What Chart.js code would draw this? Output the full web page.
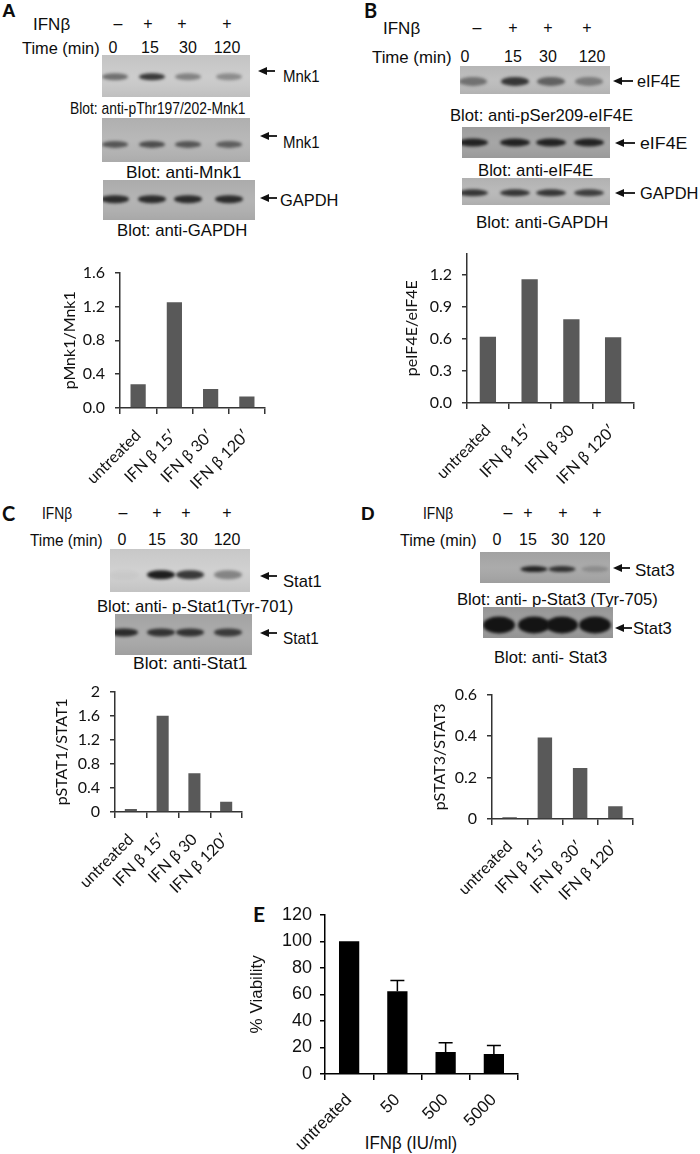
<!DOCTYPE html>
<html>
<head>
<meta charset="utf-8">
<title>IFNβ signalling</title>
<script src="https://cdn.jsdelivr.net/npm/chart.js"></script>
<style>
  body { margin: 0; background: #fff; }
  #page { position: relative; width: 700px; height: 1154px; overflow: hidden; background: #fff; color: #0d0d0d;
          font-family: Arial, "Liberation Sans", Helvetica, sans-serif; }
  .t { position: absolute; white-space: nowrap; font-size: 17px; line-height: 1;
       transform: translateY(-50%); transform-origin: left center; }
  .c { transform: translate(-50%, -50%); transform-origin: center center; }
  .lane { font-size: 16px; }
  .letter { font-weight: bold; font-size: 19px; }
  .cal { font-family: Lato, sans-serif; }
  canvas, svg { position: absolute; }
</style>
</head>
<body>
<div id="page">
  <!-- Panel A -->
  <div class="t letter" style="left:2px;top:10px">A</div>
  <div class="t" data-w="37" style="left:33px;top:24px">IFNβ</div>
  <div class="t" data-w="78" style="left:22px;top:48px">Time (min)</div>
  <div class="t" data-w="37" style="left:283px;top:76px">Mnk1</div>
  <div class="t" data-w="175" style="left:70px;top:108px">Blot: anti-pThr197/202-Mnk1</div>
  <div class="t" data-w="37" style="left:283px;top:142px">Mnk1</div>
  <div class="t" data-w="115" style="left:126px;top:172px">Blot: anti-Mnk1</div>
  <div class="t" data-w="58" style="left:280px;top:200px">GAPDH</div>
  <div class="t" data-w="130" style="left:117px;top:230px">Blot: anti-GAPDH</div>

  <!-- Panel B -->
  <div class="t letter cal" style="left:364px;top:10px;font-size:20px">B</div>
  <div class="t" data-w="37" style="left:383px;top:28px">IFNβ</div>
  <div class="t" data-w="80" style="left:372px;top:57px">Time (min)</div>
  <div class="t" data-w="43" style="left:637px;top:81px">eIF4E</div>
  <div class="t" data-w="183" style="left:450px;top:115px">Blot: anti-pSer209-eIF4E</div>
  <div class="t" data-w="47" style="left:640px;top:143px">eIF4E</div>
  <div class="t" data-w="115" style="left:478px;top:170px">Blot: anti-eIF4E</div>
  <div class="t" data-w="58" style="left:640px;top:193px">GAPDH</div>
  <div class="t" data-w="132" style="left:476px;top:222px">Blot: anti-GAPDH</div>

  <!-- Panel C -->
  <div class="t letter cal" style="left:2px;top:513px;font-size:20px">C</div>
  <div class="t" data-w="30" style="left:42px;top:513px">IFNβ</div>
  <div class="t" data-w="73" style="left:30px;top:540px">Time (min)</div>
  <div class="t" data-w="39" style="left:283px;top:581px">Stat1</div>
  <div class="t" data-w="196" style="left:97px;top:606px">Blot: anti- p-Stat1(Tyr-701)</div>
  <div class="t" data-w="36" style="left:283px;top:638px">Stat1</div>
  <div class="t" data-w="115" style="left:133px;top:663px">Blot: anti-Stat1</div>

  <!-- Panel D -->
  <div class="t letter" style="left:361px;top:513px">D</div>
  <div class="t" data-w="30" style="left:423px;top:513px">IFNβ</div>
  <div class="t" data-w="77" style="left:400px;top:540px">Time (min)</div>
  <div class="t" data-w="40" style="left:635px;top:570px">Stat3</div>
  <div class="t" data-w="201" style="left:457px;top:599px">Blot: anti- p-Stat3 (Tyr-705)</div>
  <div class="t" data-w="39" style="left:633px;top:628px">Stat3</div>
  <div class="t" data-w="113" style="left:494px;top:657px">Blot: anti- Stat3</div>

  <!-- Panel E -->
  <div class="t letter cal" style="left:253px;top:913px;font-size:21px">E</div>
  <div class="t c" data-w="92" style="left:411px;top:1143px;font-size:18px">IFNβ (IU/ml)</div>

  <canvas id="chartA"></canvas>
  <canvas id="chartB"></canvas>
  <canvas id="chartC"></canvas>
  <canvas id="chartD"></canvas>
  <canvas id="chartE"></canvas>
</div>

<script>
// ---- data ----
const treatment = ['–', '+', '+', '+'];
const times = ['0', '15', '30', '120'];

const labelsA = ['untreated', 'IFN β 15′', 'IFN β 30′', 'IFN β 120′'];
const pMnk1 = [0.28, 1.25, 0.225, 0.135];

const labelsB = ['untreated', 'IFN β 15′', 'IFN β 30', 'IFN β 120′'];
const peIF4E = [0.62, 1.16, 0.785, 0.615];

const labelsC = ['untreated', 'IFN β 15′', 'IFN β 30', 'IFN β 120′'];
const pSTAT1 = [0.05, 1.60, 0.645, 0.17];

const labelsD = ['untreated', 'IFN β 15′', 'IFN β 30′', 'IFN β 120′'];
const pSTAT3 = [0.008, 0.393, 0.246, 0.061];

const doses = ['untreated', '50', '500', '5000'];
const viability = [100, 62.4, 16.5, 15];
const viabilityErr = [0, 8, 7, 6.5];

// band darkness per lane (0 = none, 1 = black)
const bandsMnk1p = [0.5, 0.8, 0.4, 0.35];
const bandsMnk1 = [0.6, 0.65, 0.6, 0.55];
const bandsGapdhA = [0.85, 0.85, 0.85, 0.85];
const bandsEif4eP = [0.45, 0.8, 0.55, 0.4];
const bandsEif4e = [0.9, 0.9, 0.9, 0.9];
const bandsGapdhB = [0.8, 0.8, 0.8, 0.75];
const bandsStat1p = [0.03, 0.95, 0.8, 0.4];
const bandsStat1 = [0.85, 0.8, 0.8, 0.75];
const bandsStat3p = [0, 0.9, 0.8, 0.2];
const bandsStat3 = [1, 1, 1, 1];

const page = document.getElementById('page');

// lane header (+/– and times) above each panel
function laneRow(xs, cy, texts) {
  texts.forEach((s, i) => {
    const d = document.createElement('div');
    d.className = 't c lane';
    d.style.left = xs[i] + 'px';
    d.style.top = cy + 'px';
    d.textContent = s;
    page.appendChild(d);
  });
}
laneRow([118, 148, 182, 227], 24, treatment);
laneRow([113, 150, 188, 227], 48, times);
laneRow([477, 513, 548, 587], 28, treatment);
laneRow([465, 513, 548, 592], 57, times);
laneRow([123, 157, 186, 227], 513, treatment);
laneRow([122, 157, 189, 227], 540, times);
laneRow([508, 528, 563, 597], 513, treatment);
laneRow([497, 528, 560, 592], 540, times);

// squeeze labels to the width they have in the figure
function fitLabels() {
  document.querySelectorAll('[data-w]').forEach(d => {
    const centred = d.classList.contains('c');
    const base = centred ? 'translate(-50%, -50%)' : 'translateY(-50%)';
    const k = (+d.dataset.w) / d.offsetWidth;
    d.style.transform = `${base} scaleX(${k.toFixed(3)})`;
  });
}
fitLabels();
document.fonts.ready.then(fitLabels);

// little "←" arrows next to the blots
function arrow(x1, x2, y) {
  const ns = 'http://www.w3.org/2000/svg';
  const s = document.createElementNS(ns, 'svg');
  const w = x2 - x1;
  s.setAttribute('width', w); s.setAttribute('height', 10);
  s.style.left = x1 + 'px'; s.style.top = (y - 5) + 'px';
  s.innerHTML = `<polygon points="0,5 9,1 9,9" fill="#111"/>` +
                `<line x1="6" y1="5" x2="${w}" y2="5" stroke="#111" stroke-width="1.8"/>`;
  page.appendChild(s);
}

// western blot strip: grey film with blurred dark bands
function blot(x, y, w, h, bg, lanes, bands, bandW, bandH, bandY) {
  const cv = document.createElement('canvas');
  cv.width = w; cv.height = h;
  cv.style.left = x + 'px'; cv.style.top = y + 'px';
  page.appendChild(cv);
  const ctx = cv.getContext('2d');
  ctx.fillStyle = bg;
  ctx.fillRect(0, 0, w, h);
  const g = ctx.createLinearGradient(0, 0, 0, h);
  g.addColorStop(0, 'rgba(0,0,0,0.04)');
  g.addColorStop(0.5, 'rgba(255,255,255,0.03)');
  g.addColorStop(1, 'rgba(0,0,0,0.06)');
  ctx.fillStyle = g;
  ctx.fillRect(0, 0, w, h);
  ctx.filter = 'blur(1.6px)';
  bands.forEach((v, i) => {
    if (v <= 0) return;
    ctx.fillStyle = `rgba(20,20,20,${v})`;
    ctx.beginPath();
    ctx.ellipse(lanes[i] - x, h * bandY, bandW / 2, bandH / 2, 0, 0, Math.PI * 2);
    ctx.fill();
  });
  ctx.filter = 'none';
}

const lanesA = [115, 152, 188, 229];
const lanesB = [473, 515, 551, 589];
const lanesC = [124, 161, 190, 228];
const lanesD = [499, 534, 562, 595];

blot(102, 55, 148, 42, '#cbcbcb', lanesA, bandsMnk1p, 26, 7, 0.52);
blot(102, 118, 148, 44, '#b6b6b6', lanesA, bandsMnk1, 26, 7, 0.6);
blot(103, 180, 152, 40, '#b2b2b2', lanesA, bandsGapdhA, 28, 8, 0.48);
blot(460, 66, 150, 28, '#bdbdbd', lanesB, bandsEif4eP, 28, 9, 0.55);
blot(462, 127, 148, 31, '#a3a3a3', lanesB, bandsEif4e, 30, 8, 0.5);
blot(462, 178, 148, 27, '#b8b8b8', lanesB, bandsGapdhB, 30, 7, 0.55);
blot(110, 549, 140, 43, '#cfcfcf', lanesC, bandsStat1p, 28, 9, 0.6);
blot(115, 614, 137, 41, '#a9a9a9', lanesC, bandsStat1, 28, 8, 0.45);
blot(480, 552, 130, 31, '#a8a8a8', lanesD, bandsStat3p, 27, 6, 0.55);
blot(483, 607, 130, 31, '#9c9c9c', lanesD, bandsStat3, 32, 17, 0.58);

arrow(258, 275, 71); arrow(260, 277, 136); arrow(260, 277, 198);
arrow(613, 633, 81); arrow(615, 635, 143); arrow(615, 635, 193);
arrow(260, 277, 576); arrow(260, 277, 633);
arrow(613, 630, 568); arrow(615, 632, 628);

// ---- bar charts ----
const errorBars = {
  id: 'errorBars',
  afterDatasetsDraw(chart, args, opts) {
    if (!opts.errors) return;
    const { ctx } = chart;
    const y = chart.scales.y;
    const vals = chart.data.datasets[0].data;
    ctx.save();
    ctx.strokeStyle = '#000';
    ctx.lineWidth = 1.5;
    chart.getDatasetMeta(0).data.forEach((bar, i) => {
      const e = opts.errors[i];
      if (!e) return;
      const top = y.getPixelForValue(vals[i] + e);
      ctx.beginPath();
      ctx.moveTo(bar.x, bar.y);
      ctx.lineTo(bar.x, top);
      ctx.moveTo(bar.x - 7, top);
      ctx.lineTo(bar.x + 7, top);
      ctx.stroke();
    });
    ctx.restore();
  }
};

function makeBar(id, box, labels, values, c) {
  const cv = document.getElementById(id);
  cv.width = box.w; cv.height = box.h;
  cv.style.left = box.x + 'px'; cv.style.top = box.y + 'px';
  const axisColor = c.axisColor || '#333';
  return new Chart(cv, {
    type: 'bar',
    data: {
      labels: labels,
      datasets: [{
        data: values,
        backgroundColor: c.color,
        barPercentage: c.barPct,
        categoryPercentage: 1
      }]
    },
    plugins: [errorBars],
    options: {
      responsive: false,
      animation: false,
      devicePixelRatio: 1,
      layout: { padding: { top: 14, right: 10, left: 0, bottom: 0 } },
      plugins: {
        legend: { display: false },
        tooltip: { enabled: false },
        errorBars: { errors: c.errors }
      },
      scales: {
        x: {
          grid: { offset: true, drawOnChartArea: false, drawTicks: true, tickLength: 6, color: axisColor, lineWidth: 1.5 },
          border: { color: axisColor, width: 1.5 },
          ticks: { font: c.xFont, color: '#111', maxRotation: 45, minRotation: 45, autoSkip: false, padding: c.xPad },
          afterFit(s) { s.height = box.xH; }
        },
        y: {
          min: c.min, max: c.max,
          afterBuildTicks(s) { s.ticks = s.ticks.filter(t => t.value <= c.lastTick + 1e-9); },
          grid: { drawOnChartArea: false, drawTicks: true, tickLength: 5, color: axisColor, lineWidth: 1.5 },
          border: { color: axisColor, width: 1.5 },
          ticks: { stepSize: c.step, font: c.yFont, color: '#111', padding: c.yPad, callback: c.fmt },
          title: { display: true, text: c.title, font: c.titleFont, color: '#111', padding: 0 },
          afterFit(s) { s.width = box.yW; }
        }
      }
    }
  });
}

const lato16 = { family: 'Lato', size: 16 };
const arial17 = { family: 'Liberation Sans', size: 17 };
const arial18 = { family: 'Liberation Sans', size: 18 };
const oneDec = v => v.toFixed(1);
const trim = v => String(+v.toFixed(1));

makeBar('chartA', { x: 60, y: 253, w: 215, h: 245, yW: 60, xH: 90 }, labelsA, pMnk1, {
  color: '#595959', barPct: 0.42, min: 0, max: 1.6, step: 0.4, lastTick: 1.6, fmt: oneDec,
  title: 'pMnk1/Mnk1', xFont: lato16, yFont: lato16, titleFont: lato16, xPad: 12, yPad: 10
});
makeBar('chartB', { x: 402, y: 234, w: 242, h: 259, yW: 65, xH: 90 }, labelsB, peIF4E, {
  color: '#595959', barPct: 0.39, min: 0, max: 1.4, step: 0.3, lastTick: 1.2, fmt: oneDec,
  title: 'peIF4E/eIF4E', xFont: lato16, yFont: lato16, titleFont: lato16, xPad: 12, yPad: 10
});
makeBar('chartC', { x: 52, y: 672, w: 201, h: 230, yW: 63, xH: 90 }, labelsC, pSTAT1, {
  color: '#595959', barPct: 0.38, min: 0, max: 2, step: 0.4, lastTick: 2, fmt: trim,
  title: 'pSTAT1/STAT1', xFont: lato16, yFont: lato16, titleFont: lato16, xPad: 12, yPad: 10
});
makeBar('chartD', { x: 430, y: 675, w: 213, h: 234, yW: 62, xH: 90 }, labelsD, pSTAT3, {
  color: '#595959', barPct: 0.41, min: 0, max: 0.6, step: 0.2, lastTick: 0.6, fmt: trim,
  title: 'pSTAT3/STAT3', xFont: lato16, yFont: lato16, titleFont: lato16, xPad: 12, yPad: 10
});
makeBar('chartE', { x: 247, y: 896, w: 281, h: 258, yW: 78, xH: 80 }, doses, viability, {
  color: '#000', axisColor: '#000', barPct: 0.42, min: 0, max: 120, step: 20, lastTick: 120, fmt: v => v,
  errors: viabilityErr,
  title: '% Viability', xFont: arial17, yFont: arial18, titleFont: arial17, xPad: 10, yPad: 8
});
</script>
</body>
</html>
